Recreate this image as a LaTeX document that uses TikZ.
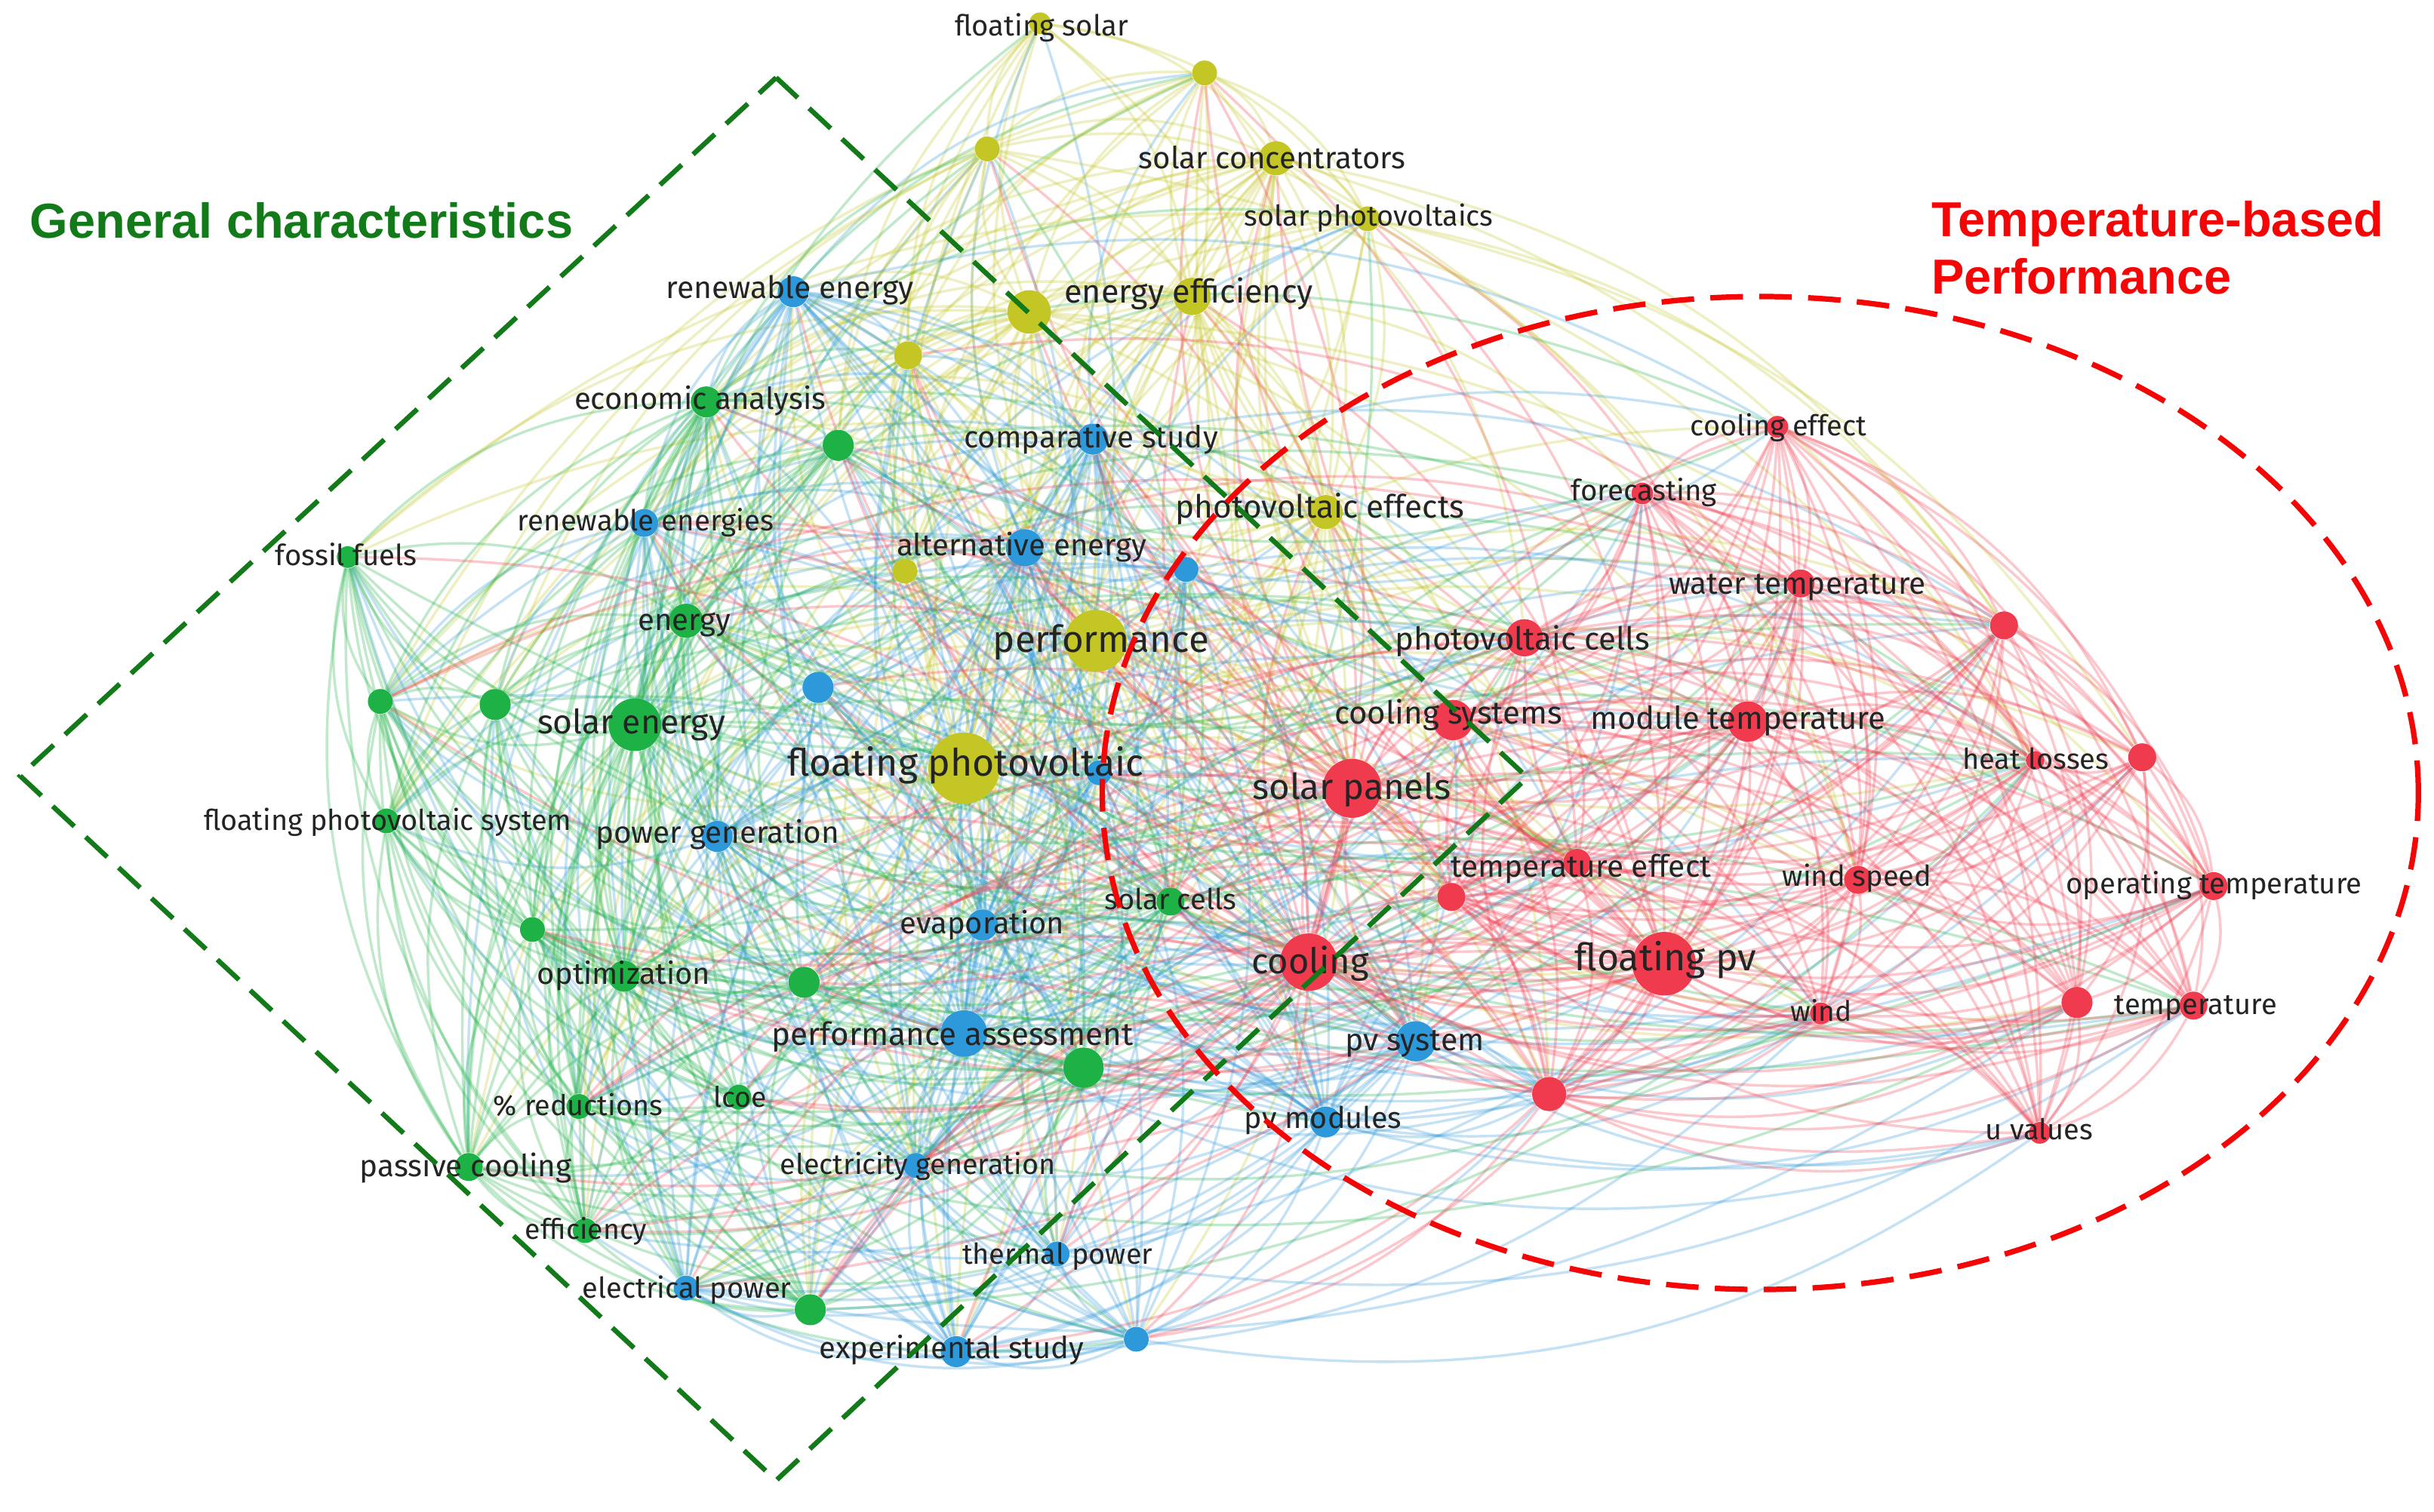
\documentclass[tikz,border=0pt]{standalone}
\usepackage{fontspec}
\setmainfont{Fira Sans}
\newfontfamily\ttlfont{Liberation Sans}
\definecolor{cY}{RGB}{196,198,38}
\definecolor{cB}{RGB}{45,152,218}
\definecolor{cG}{RGB}{30,178,70}
\definecolor{cR}{RGB}{240,58,78}
\definecolor{gdash}{RGB}{18,122,24}
\definecolor{rdash}{RGB}{244,6,6}
\definecolor{lbltext}{RGB}{36,36,36}
\newlength\lblw
\newcommand\fitlbl[2]{%
  \settowidth\lblw{\fontsize{10pt}{12pt}\selectfont #2}%
  \pgfmathsetmacro\lblfs{5.690551*#1/\lblw}%
  \fontsize{\lblfs pt}{\lblfs pt}\selectfont #2}
\newcommand\kwlab[5]{%
  \node[lbl,anchor=mid] (#1) at (#2,#3) {\fitlbl{#4}{#5}};%
}
\pgfdeclarelayer{edges}
\pgfsetlayers{edges,main}
\def\allnodes{fsolar/670/15/cY/14/1, yA/776/47/cY/16/1, yB/636/96/cY/16/1, sconc/822/102/cY/22/2, sphoto/881/141/cY/16/1, yC/663/201/cY/28/2, eeff/768/191/cY/24/2, yD/585/229/cY/18/1, pveff/854/330/cY/22/2, yE/583/368/cY/16/1, perf/706/413/cY/40/3, fpv/621/495/cY/46/3,
renen/511/188/cB/20/2, comp/704/283/cB/20/2, renens/415/337/cB/18/1, alten/660/353/cB/24/2, bA/764/367/cB/16/1, bB/527/443/cB/20/1, bC/708/498/cB/16/1, powgen/462/539/cB/20/2, evap/633/596/cB/20/2, perfass/621/666/cB/30/3, pvsys/912/671/cB/26/2, pvmod/854/723/cB/20/2, elecgen/590/751/cB/16/1, thermp/681/808/cB/16/1, elecp/442/830/cB/16/1, expst/616/871/cB/20/2, bD/732/863/cB/16/1,
econ/455/259/cG/20/2, gA/540/287/cG/20/1, fossil/224/359/cG/14/1, energy/442/400/cG/22/2, gB/245/452/cG/16/1, gC/319/454/cG/20/1, solen/409/467/cG/34/3, fpvs/249/529/cG/16/1, gD/343/599/cG/16/1, optim/402/629/cG/20/2, gE/518/633/cG/20/1, gF/698/688/cG/26/2, pred/373/713/cG/16/1, lcoe/476/707/cG/16/1, passive/302/752/cG/18/2, effic/377/793/cG/16/1, gG/522/844/cG/20/1, scells/754/581/cG/18/2,
coolef/1145/275/cR/14/1, forec/1058/318/cR/14/1, watert/1160/376/cR/18/2, rA/1291/403/cR/18/1, pvcells/982/411/cR/24/2, coolsys/936/464/cR/26/2, modt/1126/465/cR/26/2, heatl/1311/490/cR/12/1, rB/1380/488/cR/18/1, spanels/871/508/cR/38/3, teff/1016/556/cR/18/2, rC/935/578/cR/18/1, winds/1197/567/cR/18/1, opt/1426/571/cR/18/1, cooling/843/620/cR/37/3, fpvr/1072/621/cR/41/3, wind/1173/653/cR/14/1, rD/1338/646/cR/20/1, temp/1413/648/cR/18/1, rE/998/705/cR/22/2, uval/1314/730/cR/14/1}
\begin{document}
\begin{tikzpicture}[x=0.02cm,y=-0.02cm,
  kw/.style={circle,fill=#1,inner sep=0pt},
  edge/.style={draw=#1,draw opacity=0.28,line width=0.95pt},
  lbl/.style={text=lbltext,inner sep=0pt},
  gline/.style={draw=gdash,line width=1.8pt,dash pattern=on 0.38cm off 0.2cm},
  rline/.style={draw=rdash,line width=2pt,dash pattern=on 0.42cm off 0.21cm}]
\useasboundingbox (0,0) rectangle (1568,974);
\begin{pgfonlayer}{edges}
\fill[white] (0,0) rectangle (1568,974);
\end{pgfonlayer}
% keyword nodes
\foreach \na/\xa/\ya/\ca/\da/\wa in \allnodes {
  \node[kw=\ca, minimum size=\da*0.02cm] (\na) at (\xa,\ya) {};
}
% co-occurrence links (curved; peripheral ones bow outwards)
\begin{pgfonlayer}{edges}
\foreach \na/\xa/\ya/\ca/\da/\wa [count=\i] in \allnodes {
  \foreach \nb/\xb/\yb/\cb/\db/\wb [count=\j] in \allnodes {
    \ifnum\j>\i\relax
      \pgfmathtruncatemacro\hsh{mod(\i*7+\j*13+mod(\i*\j,97)*3,20)}
      \ifx\ca\cb
        \pgfmathtruncatemacro\thr{17+\wa+\wb}
      \else
        \pgfmathtruncatemacro\dd{veclen(\xa-\xb,\ya-\yb)}
        \ifnum\dd<600
          \pgfmathtruncatemacro\thr{2*\wa*\wb+3}
        \else
          \pgfmathtruncatemacro\thr{\wa*\wb+1}
        \fi
      \fi
      \ifnum\hsh<\thr\relax
        \ifnum\wb>\wa\relax \let\ec\cb \else \let\ec\ca \fi
        \pgfmathtruncatemacro\md{veclen((\xa+\xb)/2-780,(\ya+\yb)/2-500)}
        \ifnum\md>260
          \pgfmathsetmacro\zz{(\xb-\xa)/100*((\ya+\yb)/2-500)/100+(\yb-\ya)/100*(780-(\xa+\xb)/2)/100}
        \else
          \pgfmathsetmacro\zz{mod(\i+\j,2)-0.5}
        \fi
        \ifdim\zz pt>0pt
          \draw[edge=\ec] (\na) to[bend right=22] (\nb);
        \else
          \draw[edge=\ec] (\na) to[bend left=22] (\nb);
        \fi
      \fi
    \fi
  }
}
\end{pgfonlayer}
% labels
\kwlab{l-fsolar}{671}{18.6}{111.5}{floating solar}
\kwlab{l-sconc}{819.6}{103.9}{172}{solar concentrators}
\kwlab{l-sphoto}{881.8}{141}{160.3}{solar photovoltaics}
\kwlab{l-eeff}{765.9}{190.7}{160.3}{energy efficiency}
\kwlab{l-renen}{508.8}{187.6}{159.5}{renewable energy}
\kwlab{l-econ}{451}{259}{162}{economic analysis}
\kwlab{l-comp}{702.8}{283.7}{163.7}{comparative study}
\kwlab{l-coolef}{1145.7}{276}{113.4}{cooling effect}
\kwlab{l-forec}{1059}{317.8}{94}{forecasting}
\kwlab{l-renens}{416}{337.4}{165.1}{renewable energies}
\kwlab{l-pveff}{850.3}{329.3}{185.9}{photovoltaic effects}
\kwlab{l-fossil}{223}{359.7}{91.4}{fossil fuels}
\kwlab{l-alten}{658.1}{353.5}{161}{alternative energy}
\kwlab{l-watert}{1157.9}{378.3}{165.7}{water temperature}
\kwlab{l-energy}{440.8}{401.6}{59.7}{energy}
\kwlab{l-perf}{709.3}{415.5}{139}{performance}
\kwlab{l-pvcells}{980.8}{414}{163.9}{photovoltaic cells}
\kwlab{l-coolsys}{933}{462}{146.7}{cooling systems}
\kwlab{l-modt}{1119.6}{465.1}{190}{module temperature}
\kwlab{l-solen}{406.7}{468.2}{121}{solar energy}
\kwlab{l-heatl}{1311.4}{490.9}{94.5}{heat losses}
\kwlab{l-fpv}{622}{495.5}{229.6}{floating photovoltaic}
\kwlab{l-spanels}{870.8}{510.4}{128}{solar panels}
\kwlab{l-fpvs}{249.8}{530.2}{237}{floating photovoltaic system}
\kwlab{l-powgen}{462.2}{538.9}{157.1}{power generation}
\kwlab{l-teff}{1018.5}{560.6}{167.6}{temperature effect}
\kwlab{l-winds}{1196.3}{566.2}{96}{wind speed}
\kwlab{l-opt}{1426.2}{571.5}{190.8}{operating temperature}
\kwlab{l-scells}{754}{581.7}{85}{solar cells}
\kwlab{l-evap}{632.8}{596.9}{105.7}{evaporation}
\kwlab{l-optim}{401.9}{629.4}{111.5}{optimization}
\kwlab{l-cooling}{844}{622.6}{75.7}{cooling}
\kwlab{l-fpvr}{1073}{621.1}{117}{floating pv}
\kwlab{l-wind}{1173.3}{653.6}{39.4}{wind}
\kwlab{l-temp}{1414.5}{649}{104.6}{temperature}
\kwlab{l-pvsys}{911.3}{672.3}{89.7}{pv system}
\kwlab{l-perfass}{613.6}{669.2}{232.9}{performance assessment}
\kwlab{l-pred}{372.4}{714.1}{109.1}{\% reductions}
\kwlab{l-lcoe}{476.8}{708.8}{34.1}{lcoe}
\kwlab{l-uval}{1313.7}{729.6}{69.1}{u values}
\kwlab{l-passive}{300.1}{753.4}{136.4}{passive cooling}
\kwlab{l-pvmod}{852.3}{722.5}{101.3}{pv modules}
\kwlab{l-elecgen}{591.2}{752.2}{177.4}{electricity generation}
\kwlab{l-effic}{377.6}{793.8}{78.5}{efficiency}
\kwlab{l-thermp}{681.3}{810.2}{122.8}{thermal power}
\kwlab{l-elecp}{442.5}{831.9}{134.7}{electrical power}
\kwlab{l-expst}{613.1}{870.7}{170.5}{experimental study}
% cluster outlines
\draw[gline] (500,50) -- (984,501) -- (500,954) -- (13,500) -- cycle;
\draw[rline] (1134,511) ellipse [x radius=8.48cm, y radius=6.4cm];
% titles
\node[anchor=base west,inner sep=0pt,text=gdash,font=\ttlfont\bfseries\fontsize{18}{21}\selectfont] (title-g) at (19,153.5) {General characteristics};
\node[anchor=north west,inner sep=0pt,align=left,text=rdash,font=\ttlfont\bfseries\fontsize{18}{21.2}\selectfont] (title-r) at (1244,129) {Temperature-based\\Performance};
\end{tikzpicture}
\end{document}
